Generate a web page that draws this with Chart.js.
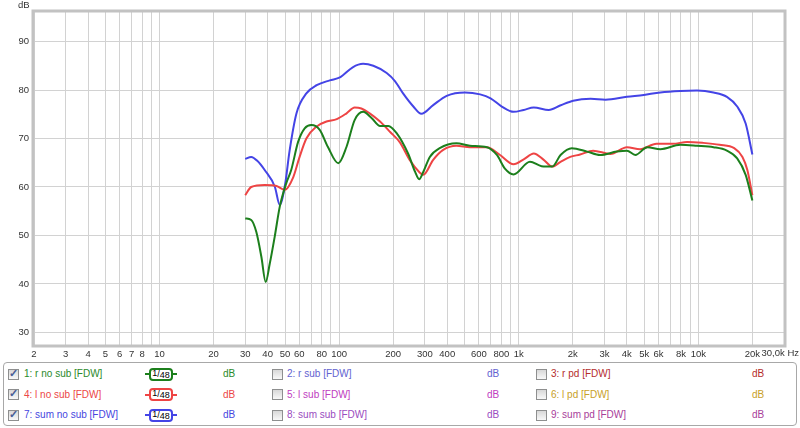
<!DOCTYPE html>
<html>
<head>
<meta charset="utf-8">
<script src="https://cdn.jsdelivr.net/npm/chart.js@4.4.1/dist/chart.umd.min.js"></script>
<style>
body{margin:0;width:800px;height:428px;overflow:hidden;background:#fff;font-family:"Liberation Sans",Arial,sans-serif;}
#c{position:absolute;left:0;top:0;}
#box{position:absolute;left:3px;top:362px;width:792px;height:62px;border:1px solid #a8a8a8;border-radius:4px;}
.it{position:absolute;font-size:10px;line-height:13px;white-space:nowrap;}
.cb{position:absolute;width:9px;height:9px;border:1px solid #8e8f8f;background:linear-gradient(#d8d8d8,#f8f8f8);}
.cb.on::after{content:"\2713";position:absolute;left:0;top:-3px;font-size:11px;font-weight:bold;color:#4a5e96;}
.st{position:absolute;width:32px;height:2px;}
.bd{position:absolute;width:20px;height:9px;border:2px solid;border-radius:4px;background:#fff;font-size:9px;line-height:9px;color:#000;text-align:center;}
</style>
</head>
<body>
<canvas id="c" width="800" height="362"></canvas>
<div id="box"></div>
<div id="leg"></div>
<script>
// frequencies (Hz) and levels (dB)
const rNoSubFreq = [30, 32.4, 34.6, 36.9, 39, 41.1, 43.9, 46.7, 50.8, 54.1, 59.1, 64.3, 70, 78, 86.5, 99, 110, 122, 136, 152, 169, 188, 209, 242, 265, 279, 294, 320, 363, 450, 535, 665, 756, 838, 936, 1155, 1340, 1537, 1710, 1976, 2400, 2840, 3510, 4004, 4460, 5200, 6146, 7940, 9840, 12150, 14430, 16460, 18350, 20000];
const rNoSubDb = [53.5, 53.2, 50.7, 45.6, 40.4, 44.2, 50, 55.9, 60.8, 63.5, 69.3, 72.1, 72.8, 71.8, 68.3, 64.9, 68.3, 73.8, 75.5, 74.2, 72.6, 72.6, 71.1, 66.9, 63.1, 61.6, 63.1, 66.2, 68, 69, 68.5, 68.2, 66.6, 63.8, 62.6, 65.2, 64.3, 64.2, 66.6, 68, 67.3, 66.6, 67.3, 67.5, 66.6, 68.2, 67.8, 68.7, 68.5, 68.2, 67.5, 65.9, 62.5, 57.2];

const lNoSubFreq = [30, 32.4, 38.5, 44.8, 49.8, 55.5, 60, 65.7, 75, 85, 97, 110, 122, 133, 148, 169, 193, 218, 247, 279, 294, 334, 378, 450, 535, 665, 787, 936, 1066, 1213, 1378, 1537, 1710, 1935, 2196, 2595, 3240, 4004, 4742, 5850, 7220, 8670, 10630, 13120, 15840, 17610, 18750, 20000];
const lNoSubDb = [58.3, 60, 60.4, 60.2, 59.4, 62, 66, 70, 72.5, 73.5, 74, 75.2, 76.4, 76.2, 75.2, 73.5, 71.3, 69.2, 65.6, 63.1, 62.5, 65.6, 67.6, 68.5, 68.2, 68.2, 66.6, 64.7, 65.7, 66.9, 65.6, 64.2, 65.2, 66.2, 66.7, 67.5, 66.8, 68.2, 67.8, 68.9, 68.9, 69.3, 69.1, 68.7, 68, 66.2, 63.5, 58.3];

const sumNoSubFreq = [30, 32.4, 35, 38.5, 43.9, 46.7, 50, 53, 57.9, 65.7, 75, 88.7, 101, 119, 136, 155, 184, 205, 227, 259, 287, 334, 397, 502, 610, 697, 805, 936, 1066, 1213, 1470, 1700, 2011, 2513, 3041, 4004, 4968, 6146, 7940, 9840, 12150, 14430, 16460, 18350, 20000];
const sumNoSubDb = [65.8, 66.2, 65.4, 63.5, 60, 56.3, 60.5, 67.5, 75.2, 79.3, 81, 82, 82.6, 84.7, 85.4, 85, 83.5, 81.8, 79.3, 76.6, 75.1, 76.9, 78.8, 79.5, 79.1, 78.3, 76.6, 75.5, 75.9, 76.4, 75.9, 76.8, 77.8, 78.2, 78, 78.6, 79, 79.5, 79.8, 79.9, 79.5, 78.6, 76.6, 73.1, 66.7];

const xGrid = [2,3,4,5,6,7,8,9,10,20,30,40,50,60,70,80,90,100,200,300,400,500,600,700,800,900,1000,2000,3000,4000,5000,6000,7000,8000,9000,10000,20000,30000];
const xLabelVals = [2,3,4,5,6,7,8,10,20,30,40,50,60,80,100,200,300,400,600,800,1000,2000,3000,4000,5000,6000,8000,10000,20000];
const xLabelText = ['2','3','4','5','6','7','8','10','20','30','40','50','60','80','100','200','300','400','600','800','1k','2k','3k','4k','5k','6k','8k','10k','20k'];
const yTicks = [30,40,50,60,70,80,90];

const legendNames = [
  ['1: r no sub [FDW]', '2: r sub [FDW]', '3: r pd [FDW]'],
  ['4: l no sub [FDW]', '5: l sub [FDW]', '6: l pd [FDW]'],
  ['7: sum no sub [FDW]', '8: sum sub [FDW]', '9: sum pd [FDW]']
];
const legendColors = [
  ['#2a8a2a', '#6262d0', '#b42c2c'],
  ['#ec4646', '#c03cc0', '#c8a028'],
  ['#4646e0', '#9a4cc0', '#a8409a']
];
const lineColors = ['#1c7f1c', '#ee4444', '#4444e6'];

const labelMap = {};
xLabelVals.forEach((v, i) => labelMap[v] = xLabelText[i]);

function pts(f, d) { return f.map((v, i) => ({x: v, y: d[i]})); }

const tickFont = {size: 9.5, family: '"Liberation Sans", Arial'};

const extras = {
  id: 'extras',
  afterDraw(chart) {
    const ctx = chart.ctx, a = chart.chartArea;
    ctx.save();
    ctx.strokeStyle = '#c2c2c2';
    ctx.lineWidth = 3;
    ctx.strokeRect(a.left - 1, a.top - 1, a.right - a.left + 2, a.bottom - a.top + 2);
    ctx.fillStyle = '#333';
    ctx.font = '9.5px "Liberation Sans", Arial';
    ctx.textBaseline = 'top';
    ctx.fillText('dB', 18, 1);
    ctx.textAlign = 'right';
    ctx.fillText('30,0k Hz', 799, 349);
    ctx.restore();
  }
};

new Chart(document.getElementById('c').getContext('2d'), {
  type: 'line',
  data: {
    datasets: [
      {label: '1: r no sub [FDW]', data: pts(rNoSubFreq, rNoSubDb), borderColor: lineColors[0]},
      {label: '4: l no sub [FDW]', data: pts(lNoSubFreq, lNoSubDb), borderColor: lineColors[1]},
      {label: '7: sum no sub [FDW]', data: pts(sumNoSubFreq, sumNoSubDb), borderColor: lineColors[2]}
    ]
  },
  options: {
    responsive: false,
    animation: false,
    layout: {padding: {top: 12, right: 16, left: 0, bottom: 0}},
    elements: {
      point: {radius: 0},
      line: {borderWidth: 2, cubicInterpolationMode: 'monotone', fill: false}
    },
    plugins: {legend: {display: false}, tooltip: {enabled: false}},
    scales: {
      x: {
        type: 'logarithmic', min: 2, max: 30000,
        afterBuildTicks: s => { s.ticks = xGrid.map(v => ({value: v})); },
        afterFit: s => { s.height = 17; },
        ticks: {
          autoSkip: false, maxRotation: 0, minRotation: 0, padding: 4, color: '#333',
          font: tickFont,
          callback: v => labelMap[v] || ''
        },
        grid: {color: '#d2d2d2', drawTicks: false},
        border: {display: false}
      },
      y: {
        min: 27.4, max: 96.1,
        afterBuildTicks: s => { s.ticks = yTicks.map(v => ({value: v})); },
        afterFit: s => { s.width = 34; },
        ticks: {padding: 5, color: '#333', font: tickFont},
        grid: {color: '#d2d2d2', drawTicks: false},
        border: {display: false}
      }
    }
  },
  plugins: [extras]
});

// legend table below the plot
const colX = [[8, 24, 223], [272, 287, 487], [536, 551, 752]];
const rowY = [374, 394.5, 415];
const leg = document.getElementById('leg');
let html = '';
legendNames.forEach((row, r) => {
  row.forEach((name, c) => {
    const col = legendColors[r][c], y = rowY[r], cx = colX[c];
    html += `<span class="cb${c === 0 ? ' on' : ''}" style="left:${cx[0]}px;top:${y - 5.5}px"></span>`;
    html += `<span class="it" style="left:${cx[1]}px;top:${y - 7}px;color:${col}">${name}</span>`;
    html += `<span class="it" style="left:${cx[2]}px;top:${y - 7}px;color:${col}">dB</span>`;
    if (c === 0) {
      html += `<span class="st" style="left:145px;top:${y - 1}px;background:${lineColors[r]}"></span>`;
      html += `<span class="bd" style="left:149px;top:${y - 6.5}px;border-color:${lineColors[r]}"><span style="position:relative;top:-1px">1</span>/<span style="position:relative;top:1px">48</span></span>`;
    }
  });
});
leg.innerHTML = html;
</script>
</body>
</html>
